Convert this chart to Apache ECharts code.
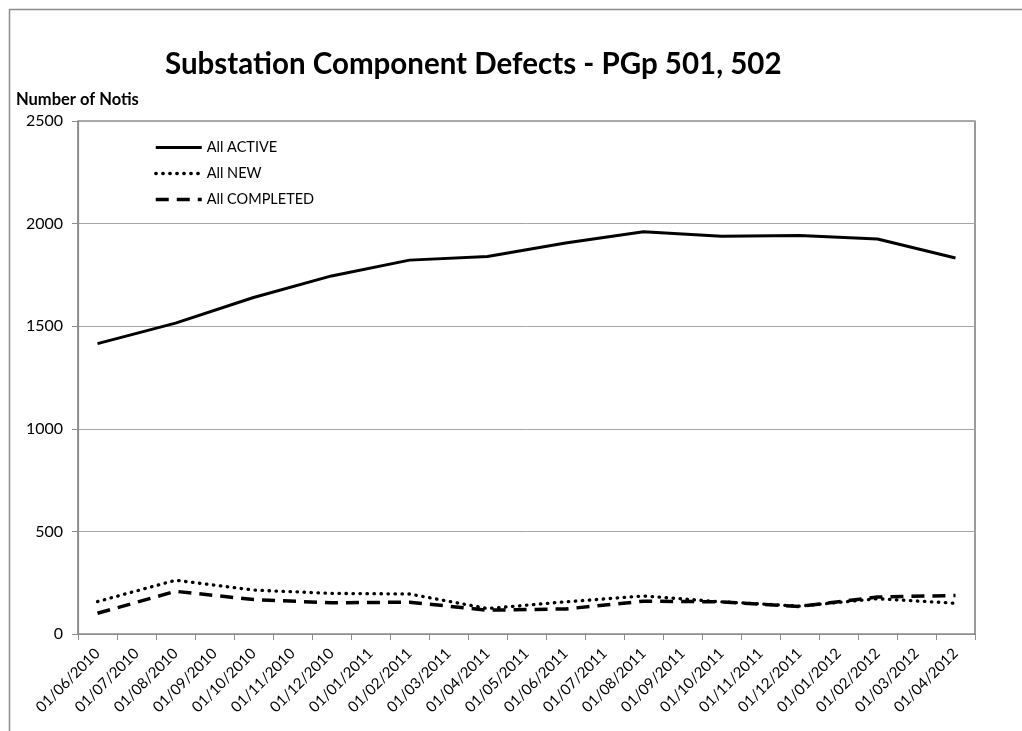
<!DOCTYPE html>
<html>
<head>
<meta charset="utf-8">
<title>Substation Component Defects</title>
<script src="https://cdn.jsdelivr.net/npm/echarts@6/dist/echarts.min.js"></script>
<style>
  html, body { margin: 0; padding: 0; background: #fff; }
  #chart { width: 1022px; height: 731px; }
</style>
</head>
<body>
<div id="chart"></div>
<script>
// Monthly categories (first of each month)
const months = [
  '01/06/2010', '01/07/2010', '01/08/2010', '01/09/2010', '01/10/2010', '01/11/2010',
  '01/12/2010', '01/01/2011', '01/02/2011', '01/03/2011', '01/04/2011', '01/05/2011',
  '01/06/2011', '01/07/2011', '01/08/2011', '01/09/2011', '01/10/2011', '01/11/2011',
  '01/12/2011', '01/01/2012', '01/02/2012', '01/03/2012', '01/04/2012'
];

// Notification counts, sampled every second month (null = no sample)
const allActive = [
  1415, null, 1515, null, 1640, null, 1745, null, 1822, null, 1840, null,
  1905, null, 1960, null, 1938, null, 1942, null, 1925, null, 1832
];
const allNew = [
  158, null, 262, null, 214, null, 198, null, 195, null, 124, null,
  157, null, 185, null, 157, null, 136, null, 172, null, 150
];
const allCompleted = [
  101, null, 208, null, 168, null, 152, null, 155, null, 116, null,
  122, null, 160, null, 157, null, 134, null, 180, null, 188
];

const yTicks = [0, 500, 1000, 1500, 2000, 2500];

const FONT = 'Lato, "Open Sans", sans-serif';

// Line styles shared by each series and its legend entry
const styleActive = { color: '#000', width: 3, type: 'solid' };
const styleNew = { color: '#000', width: 3.3, type: [0.5, 6.5], cap: 'round' };
const styleCompleted = { color: '#000', width: 3.5, type: [13, 8] };

const chart = echarts.init(document.getElementById('chart'), null, { renderer: 'canvas' });

chart.setOption({
  backgroundColor: '#fff',
  animation: false,
  textStyle: { fontFamily: FONT, color: '#000' },
  title: {
    text: 'Substation Component Defects - PGp 501, 502',
    left: 160,
    top: 44,
    textStyle: { fontFamily: FONT, fontWeight: 'bold', fontSize: 29.5, color: '#000' }
  },
  graphic: [
    {
      type: 'rect',
      left: 7, top: 7,
      shape: { width: 1040, height: 760 },
      style: { fill: 'none', stroke: '#8c8c8c', lineWidth: 1.5 },
      silent: true
    },
    {
      type: 'text',
      left: 16, top: 91,
      style: { text: 'Number of Notis', fontFamily: FONT, fontWeight: 'bold', fontSize: 16.5, fill: '#000' }
    }
  ],
  legend: {
    orient: 'vertical',
    left: 149,
    top: 135,
    itemWidth: 46,
    itemHeight: 14,
    itemGap: 11,
    itemStyle: { opacity: 0 },
    textStyle: { fontFamily: FONT, fontSize: 14.5, color: '#000' },
    data: [
      { name: 'All ACTIVE', lineStyle: styleActive },
      { name: 'All NEW', lineStyle: styleNew },
      { name: 'All COMPLETED', lineStyle: styleCompleted }
    ]
  },
  grid: {
    left: 78, right: 47, top: 121, bottom: 97,
    show: true,
    borderColor: '#595959',
    borderWidth: 1.2,
    containLabel: false
  },
  xAxis: {
    type: 'category',
    data: months,
    boundaryGap: true,
    axisLine: { lineStyle: { color: '#8c8c8c', width: 1.2 } },
    axisTick: { show: true, interval: 0, length: 6, lineStyle: { color: '#8c8c8c' } },
    axisLabel: {
      interval: 0, rotate: 45, margin: 17,
      fontFamily: FONT, fontSize: 15, color: '#000'
    },
    splitLine: { show: false }
  },
  yAxis: {
    type: 'value',
    min: yTicks[0],
    max: yTicks[yTicks.length - 1],
    interval: 500,
    axisLine: { show: true, lineStyle: { color: '#8c8c8c', width: 1.2 } },
    axisTick: { show: true, length: 6, lineStyle: { color: '#8c8c8c' } },
    axisLabel: {
      fontFamily: FONT, fontSize: 16, color: '#000', margin: 15,
      formatter: (v) => String(v)
    },
    splitLine: { show: true, lineStyle: { color: '#a6a6a6', width: 1 } }
  },
  series: [
    {
      name: 'All ACTIVE',
      type: 'line',
      data: allActive,
      connectNulls: true,
      showSymbol: false,
      symbol: 'none',
      color: '#000',
      lineStyle: styleActive
    },
    {
      name: 'All NEW',
      type: 'line',
      data: allNew,
      connectNulls: true,
      showSymbol: false,
      symbol: 'none',
      color: '#000',
      lineStyle: styleNew
    },
    {
      name: 'All COMPLETED',
      type: 'line',
      data: allCompleted,
      connectNulls: true,
      showSymbol: false,
      symbol: 'none',
      color: '#000',
      lineStyle: styleCompleted
    }
  ]
});
</script>
</body>
</html>
